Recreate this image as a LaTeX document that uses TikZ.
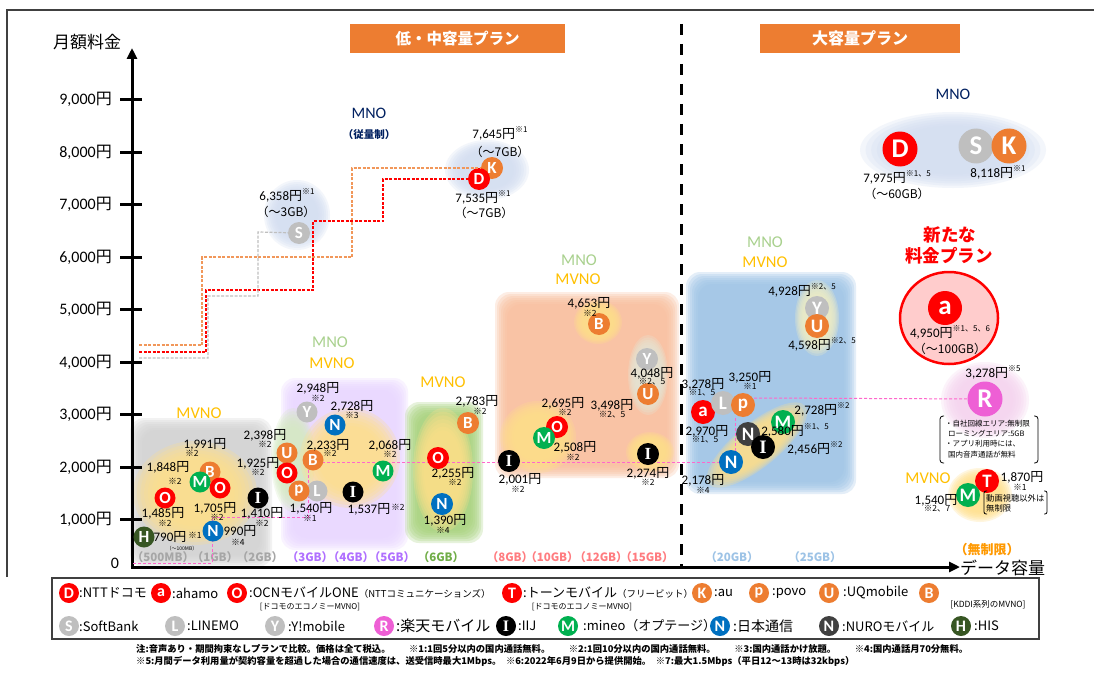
\documentclass[tikz,border=0pt]{standalone}
\usepackage{fontspec}
\setmainfont{Carlito}
\newfontfamily\jp{Noto Sans CJK JP}
\newfontfamily\serI{Liberation Serif}
\usetikzlibrary{arrows.meta}
\definecolor{cRed}{HTML}{FF0000}
\definecolor{cOr}{HTML}{ED7D31}
\definecolor{cGy}{HTML}{BFBFBF}
\definecolor{cGr}{HTML}{00B050}
\definecolor{cBl}{HTML}{0070C0}
\definecolor{cDk}{HTML}{404040}
\definecolor{cH}{HTML}{375623}
\definecolor{cPk}{HTML}{EE5FD5}
\definecolor{cNavy}{HTML}{002060}
\definecolor{cGold}{HTML}{FFC000}
\definecolor{cMnoG}{HTML}{A9D18E}
\definecolor{cYel}{HTML}{FFE08A}
\definecolor{cYlt}{HTML}{F1EEC5}
\definecolor{cGbox}{HTML}{D2D2D2}
\definecolor{cPur}{HTML}{E9D6FF}
\definecolor{cGlt}{HTML}{D5EAC2}
\definecolor{cGrn}{HTML}{A6D27A}
\definecolor{cSal}{HTML}{F9BE9C}
\definecolor{cGG}{HTML}{E4E6D6}
\definecolor{cBbox}{HTML}{9DC3E6}
\definecolor{cBlob}{HTML}{D3DEF1}
\definecolor{cPkL}{HTML}{F5D3EF}
\definecolor{cPkC}{HTML}{FFCCCC}
\definecolor{cPinkL}{HTML}{FF66CC}
\definecolor{lbGray}{HTML}{A6A6A6}
\definecolor{lbPur}{HTML}{B070FF}
\definecolor{lbGrn}{HTML}{70AD47}
\definecolor{lbSal}{HTML}{FF7C80}
\definecolor{lbBlu}{HTML}{9DC3E6}
\definecolor{lbOr}{HTML}{FF9900}
\newcommand\en{{\jp 円}}
\newcommand\II{{\serI\bfseries I}}
\newcommand\supk[1]{\raisebox{0.45em}{\jp\fontsize{8}{8}\selectfont ※#1}}
\newcommand\softell[5][0]{\foreach \s in {1,0.94,0.88,0.82,0.76,0.70,0.64}{\fill[#5,opacity=0.27,rotate around={#1:#2}] #2 ellipse[x radius={\s*#3}, y radius={\s*#4}];}}
\newcommand\softrect[5]{\foreach \s in {0,2,4,6,8,10,12}{\fill[#5,opacity=0.27,rounded corners=14pt] ({#1+\s},{#2+\s}) rectangle ({#3-\s},{#4-\s});}}
\tikzset{
 bub/.style={circle,fill=#1,minimum size=22pt,inner sep=0pt,text=white,font=\bfseries\fontsize{17}{17}\selectfont},
 bsm/.style={minimum size=20pt,font=\bfseries\fontsize{16}{16}\selectfont},
 bmid/.style={minimum size=24pt,font=\bfseries\fontsize{19}{19}\selectfont},
 bbig/.style={minimum size=35pt,font=\bfseries\fontsize{27}{27}\selectfont},
 pr/.style={inner sep=0pt,font=\fontsize{13}{13}\selectfont},
 km/.style={inner sep=0pt,font=\jp\fontsize{8.5}{8.5}\selectfont},
 gb/.style={inner sep=0pt,font=\jp\fontsize{12}{12}\selectfont},
 mnoG/.style={inner sep=0pt,text=cMnoG,font=\fontsize{16.5}{16.5}\selectfont},
 mvno/.style={inner sep=0pt,text=cGold,font=\fontsize{16.5}{16.5}\selectfont},
 xl/.style={inner sep=0pt,font=\jp\bfseries\fontsize{11.5}{11.5}\selectfont},
 tick/.style={inner sep=0pt,font=\fontsize{16}{16}\selectfont},
 lg/.style={inner sep=0pt,anchor=west,font=\jp\fontsize{13}{13}\selectfont},
 lgs/.style={inner sep=0pt,font=\jp\fontsize{8}{8}\selectfont},
 rn/.style={inner sep=0pt,anchor=west,font=\jp\fontsize{7.5}{7.5}\selectfont},
 notes/.style={inner sep=0pt,anchor=west,font=\jp\bfseries\fontsize{9.3}{9.3}\selectfont},
 pinkd/.style={cPinkL,line width=1pt,dash pattern=on 3pt off 2pt},
 stepd/.style={line width=1.2pt,dash pattern=on 3pt off 1.5pt},
 banner/.style={fill=cOr,text=white,inner sep=0pt,font=\jp\bfseries\fontsize{15.5}{15.5}\selectfont},
}
\begin{document}
\begin{tikzpicture}[x=1pt,y=-1pt]
\useasboundingbox (0,0) rectangle (1094,682);
\fill[white] (0,0) rectangle (1094,682);
% frame
\draw[cDk,line width=1.2pt] (7,577) -- (7,10) -- (1094,10);
% banners
\node[banner,minimum width=215pt,minimum height=29pt] (bn1) at (457.5,38.5) {低・中容量プラン};
\node[banner,minimum width=200pt,minimum height=29pt,font=\jp\bfseries\fontsize{16}{16}\selectfont] (bn2) at (860,38.5) {大容量プラン};
% soft regions
\softell{(297,215)}{33}{35}{cBlob}
\softell{(487,170)}{42}{30}{cBlob}
\softell{(953,150)}{93}{38}{cBlob}
\softrect{130}{418}{272}{567}{cGbox}
\softell{(195,493)}{62}{52}{cYel}
\softrect{281}{378}{408}{550}{cPur}
\softell{(293,460)}{22}{52}{cGlt}
\softell{(350,458)}{50}{50}{cYel}
\softrect{405}{402}{483}{543}{cGrn}
\softell{(443,470)}{30}{62}{cYel}
\softrect{495}{292}{679}{478}{cSal}
\softell{(538,437)}{38}{36}{cYel}
\softell{(650,452)}{24}{20}{cYel}
\softell{(598,322)}{24}{22}{cYel}
\softell{(648,375)}{20}{40}{cGG}
\softrect{686}{272}{856}{494}{cBbox}
\softell{(817,318)}{22}{38}{cYlt}
\softell[39]{(757,445)}{62}{22}{cYel}
\softell{(985,400)}{44}{38}{cPkL}
\softell{(980,495)}{32}{27}{cYel}
\draw[cRed,line width=2.5pt,fill=cPkC] (949,318) ellipse[x radius=49,y radius=46];
% axes
\coordinate (org) at (132,568.5);
\coordinate (ytop) at (132,48);
\coordinate (xorg) at (130.5,567);
\coordinate (xend) at (960,567);
\draw[line width=3pt,-{Triangle[length=11pt,width=10pt]}] (org) -- (ytop);
\draw[line width=3pt,-{Triangle[length=11pt,width=10pt]}] (xorg) -- (xend);
\foreach \v/\yy in {9/99.5,8/152,7/204.5,6/257,5/309.5,4/362,3/414.5,2/467,1/519.5}{
  \draw[line width=3pt] (120,\yy) -- (142,\yy);
  \node[tick,anchor=east] (tk\v) at (112,\yy) {\v,000\en};}
\node[tick] (tk0) at (115,563) {0};
\node[inner sep=0pt,font=\jp\fontsize{17}{17}\selectfont] (ylab) at (87,42) {月額料金};
\node[inner sep=0pt,anchor=west,font=\jp\fontsize{17}{17}\selectfont] (xlab) at (960,568) {データ容量};
% divider
\draw[line width=3pt,dash pattern=on 11pt off 9pt] (681,24) -- (681,567);
% x labels
\node[xl,text=lbGray] (x1) at (163,557) {（500MB）};
\node[xl,text=lbGray] (x2) at (215,557) {（1GB）};
\node[xl,text=lbGray] (x3) at (260,557) {（2GB）};
\node[xl,text=lbPur] (x4) at (310,557) {（3GB）};
\node[xl,text=lbPur] (x5) at (351,557) {（4GB）};
\node[xl,text=lbPur] (x6) at (392,557) {（5GB）};
\node[xl,text=lbGrn] (x7) at (441,557) {（6GB）};
\node[xl,text=lbSal] (x8) at (510,557) {（8GB）};
\node[xl,text=lbSal] (x9) at (552,557) {（10GB）};
\node[xl,text=lbSal] (x10) at (601,557) {（12GB）};
\node[xl,text=lbSal] (x11) at (647,557) {（15GB）};
\node[xl,text=lbBlu] (x12) at (732,557) {（20GB）};
\node[xl,text=lbBlu] (x13) at (815,557) {（25GB）};
\node[xl,text=lbOr,font=\jp\bfseries\fontsize{13}{13}\selectfont] (x14) at (987,550) {（無制限）};
% group labels
\node[inner sep=0pt,text=cNavy,font=\fontsize{16}{16}\selectfont] (mnoA) at (369,113) {MNO};
\node[inner sep=0pt,text=cNavy,font=\jp\bfseries\fontsize{10.5}{10.5}\selectfont] (mnoA2) at (369,135) {（従量制）};
\node[inner sep=0pt,text=cNavy,font=\fontsize{16}{16}\selectfont] (mnoB) at (953,94) {MNO};
\node[mvno] (mv1) at (199,413) {MVNO};
\node[mnoG] (mg2) at (330,342) {MNO};
\node[mvno] (mv2) at (332,363) {MVNO};
\node[mvno] (mv3) at (443,382) {MVNO};
\node[mnoG] (mg4) at (579,260) {MNO};
\node[mvno] (mv4) at (578,279) {MVNO};
\node[mnoG] (mg5) at (765,242) {MNO};
\node[mvno] (mv5) at (765,262) {MVNO};
\node[mvno] (mv6) at (928,478) {MVNO};
\node[inner sep=0pt,text=cRed,font=\jp\bfseries\fontsize{17.5}{17.5}\selectfont] (np1) at (950,235) {新たな};
\node[inner sep=0pt,text=cRed,font=\jp\bfseries\fontsize{17.5}{17.5}\selectfont] (np2) at (949,256) {料金プラン};
% top MNO bubbles
\node[bub=cGy] (S1) at (299,233) {S};
\node[bub=cOr] (K1) at (492,168) {K};
\node[bub=cRed] (D1) at (479,179) {D};
% step lines
\draw[stepd,cOr!80] (139,345) -| (202,257) -| (352,168) -- (K1);
\draw[stepd,cRed] (139,352) -| (206,290) -| (313,221) -| (383,179) -- (D1);
\draw[stepd,cGy] (139,358) -| (208,296) -| (258,232) -- (S1);
\node[pr] (pS1) at (287,195) {6,358\en\supk{1}};
\node[gb] (gS1) at (286,212) {（～3GB）};
\node[pr] (pK1) at (500,133) {7,645\en\supk{1}};
\node[gb] (gK1) at (500,152) {（～7GB）};
\node[pr] (pD1) at (483,197) {7,535\en\supk{1}};
\node[gb] (gD1) at (484,213) {（～7GB）};
% pink dashed lines
\coordinate (pa) at (133,563);
\coordinate (pb) at (735,451);
\coordinate (pc) at (735,416);
\coordinate (pd) at (754,398);
\node[bub=cBl,bmid] (Nb5) at (731,462) {N};
\node[bub=cPk,bbig] (R1) at (985,399) {R};
\draw[pinkd] (pa) -| (212,517) -| (308,462) -- (Nb5);
\draw[pinkd] (pb) -- (pc);
\draw[pinkd] (pd) -- (R1);
% low region
\node[bub=cH,minimum size=21pt] (H1) at (144,537) {H};
\node[pr] (pH1) at (170,537) {790\en};
\node[km] (kH1) at (195,535) {※1};
\node[inner sep=0pt,font=\jp\fontsize{5}{5}\selectfont] (mbH1) at (182,549) {（～100MB）};
\node[bub=cRed,minimum size=21pt] (O1) at (165,498) {O};
\node[pr] (pO1) at (163,513) {1,485\en};
\node[km] (kO1) at (165,523) {※2};
\node[pr] (pM1) at (168,467) {1,848\en};
\node[km] (kM1) at (175,481) {※2};
\node[bub=cOr,minimum size=21pt] (B1) at (210,472) {B};
\node[bub=cGr,minimum size=21pt] (M1) at (200,482) {M};
\node[bub=cRed,minimum size=21pt] (O2) at (220,488) {O};
\node[pr] (pB1) at (205,444) {1,991\en};
\node[km] (kB1) at (192,453) {※2};
\node[pr] (pO2) at (215,508) {1,705\en};
\node[km] (kO2) at (217,517) {※2};
\node[bub=cBl,minimum size=21pt] (Nb1) at (213,531) {N};
\node[pr] (pN1) at (240,531) {990\en};
\node[km] (kN1) at (238,542) {※4};
\node[bub=black,minimum size=21pt] (I1) at (258,498) {\II};
\node[pr] (pI1) at (262,513) {1,410\en};
\node[km] (kI1) at (262,523) {※2};
\node[pr] (pO3) at (258,463) {1,925\en};
\node[km] (kO3) at (258,472) {※2};
\node[pr] (pU1) at (265,435) {2,398\en};
\node[km] (kU1) at (265,444) {※2};
\node[bub=cOr,minimum size=21pt] (U1) at (287,453) {U};
\node[bub=cRed,minimum size=21pt] (O3) at (287,473) {O};
\node[bub=cGy,minimum size=21pt] (L1) at (317,491) {L};
\node[bub=cOr,minimum size=21pt] (p1) at (299,491) {p};
\node[bub=cOr,minimum size=21pt] (B2) at (313,460) {B};
\node[pr] (pB2) at (328,445) {2,233\en};
\node[km] (kB2) at (330,453) {※2};
\node[pr] (pp1) at (311,508) {1,540\en};
\node[km] (kp1) at (310,518) {※1};
\node[bub=cGy,minimum size=21pt] (Y1) at (307,412) {Y};
\node[pr] (pY1) at (318,388) {2,948\en};
\node[km] (kY1) at (318,398) {※2};
\node[bub=cBl,minimum size=21pt] (Nb2) at (335,425) {N};
\node[pr] (pN2) at (352,406) {2,728\en};
\node[km] (kN2) at (352,415) {※3};
\node[bub=cGr,minimum size=21pt] (M2) at (383,471) {M};
\node[pr] (pM2) at (390,445) {2,068\en};
\node[km] (kM2) at (390,454) {※2};
\node[bub=black,minimum size=21pt] (I2) at (353,492) {\II};
\node[pr] (pI2) at (369,509) {1,537\en};
\node[km] (kI2) at (398,507) {※2};
% 6GB
\node[bub=cOr] (B3) at (468,423) {B};
\node[pr] (pB3) at (477,401) {2,783\en};
\node[km] (kB3) at (480,411) {※2};
\node[bub=cRed] (O4) at (438,458) {O};
\node[pr] (pO4) at (453,473) {2,255\en};
\node[km] (kO4) at (455,482) {※2};
\node[bub=cBl] (Nb3) at (442,504) {N};
\node[pr] (pN3) at (445,520) {1,390\en};
\node[km] (kN3) at (443,530) {※4};
% salmon
\node[bub=cOr] (B4) at (599,324) {B};
\node[pr] (pB4) at (589,303) {4,653\en};
\node[km] (kB4) at (590,313) {※2};
\node[bub=cGy] (Y2) at (647,359) {Y};
\node[bub=cOr] (U2) at (648,394) {U};
\node[pr] (pY2) at (652,373) {4,048\en};
\node[km] (kY2) at (652,382) {※2、5};
\node[pr] (pU2) at (612,405) {3,498\en};
\node[km] (kU2) at (612,415) {※2、5};
\node[bub=cRed] (O5) at (557,427) {O};
\node[bub=cGr] (M3) at (544,438) {M};
\node[pr] (pO5) at (563,403) {2,695\en};
\node[km] (kO5) at (565,412) {※2};
\node[pr] (pM3) at (575,447) {2,508\en};
\node[km] (kM3) at (573,457) {※2};
\node[bub=black] (I3) at (509,461) {\II};
\node[pr] (pI3) at (520,479) {2,001\en};
\node[km] (kI3) at (518,489) {※2};
\node[bub=black] (I4) at (648,454) {\II};
\node[pr] (pI4) at (648,473) {2,274\en};
\node[km] (kI4) at (648,482) {※2};
% blue box
\node[bub=cGy,bmid] (Y3) at (817,308) {Y};
\node[bub=cOr,bmid] (U3) at (817,326) {U};
\node[pr] (pY3) at (802,290) {4,928\en\supk{2、5}};
\node[pr] (pU3) at (822,344) {4,598\en\supk{2、5}};
\node[bub=cRed,bmid] (a1) at (703,412) {a};
\node[bub=cGy,bmid] (L2) at (723,403) {L};
\node[bub=cOr,bmid] (p2) at (743,405) {p};
\node[pr] (pa1) at (707,431) {2,970\en};
\node[km] (ka1) at (705,440) {※1、5};
\node[pr] (pL2) at (703,384) {3,278\en};
\node[km] (kL2) at (702,393) {※1、5};
\node[pr] (pp2) at (750,377) {3,250\en};
\node[km] (kp2) at (750,386) {※1};
\node[bub=cGr,bmid] (M4) at (783,422) {M};
\node[pr] (pM4) at (822,409) {2,728\en\supk{2}};
\node[bub=cDk,bmid] (Nd1) at (748,434) {N};
\node[bub=black,bmid] (I5) at (763,447) {\II};
\node[pr] (pNd1) at (795,430) {2,580\en\supk{1、5}};
\node[pr] (pI5) at (815,448) {2,456\en\supk{2}};
\node[pr] (pN5) at (703,480) {2,178\en};
\node[km] (kN5) at (703,490) {※4};
% right MNO
\node[bub=cRed,bbig] (D2) at (900,149) {D};
\node[bub=cGy,bbig] (S2) at (976,146) {S};
\node[bub=cOr,bbig] (K2) at (1009,146) {K};
\node[pr] (pD2) at (897,177) {7,975\en\supk{1、5}};
\node[gb] (gD2) at (897,194) {（～60GB）};
\node[pr] (pK2) at (998,172) {8,118\en\supk{1}};
% new plan
\node[bub=cRed,minimum size=34pt,font=\bfseries\fontsize{27}{27}\selectfont] (a2) at (945,308) {a};
\node[pr] (pa2) at (950,332) {4,950\en\supk{1、5、6}};
\node[gb] (ga2) at (950,349) {（～100GB）};
\node[pr] (pR1) at (993,372) {3,278\en\supk{5}};
\node[rn] (rn1) at (945,424) {・自社回線エリア:無制限};
\node[rn] (rn2) at (948,434) {ローミングエリア:5GB};
\node[rn] (rn3) at (945,444) {・アプリ利用時には、};
\node[rn] (rn4) at (948,455) {国内音声通話が無料};
\draw[line width=0.8pt,rounded corners=3pt] (944,416) -- (940,416) -- (940,463) -- (944,463);
\draw[line width=0.8pt,rounded corners=3pt] (1034,416) -- (1038,416) -- (1038,463) -- (1034,463);
% unlimited MVNO
\node[bub=cRed,bmid] (T1) at (987,481) {T};
\node[bub=cGr,bmid] (M5) at (968,495) {M};
\node[pr] (pT1) at (1022,477) {1,870\en};
\node[km] (kT1) at (1020,487) {※1};
\node[pr] (pM5) at (936,500) {1,540\en};
\node[km] (kM5) at (937,509) {※2、7};
\node[rn,font=\jp\fontsize{8.3}{8.3}\selectfont] (tn1) at (986,498) {動画視聴以外は};
\node[rn,font=\jp\fontsize{8.3}{8.3}\selectfont] (tn2) at (986,508) {無制限};
\draw[line width=0.8pt,rounded corners=2pt] (987,491) -- (984,491) -- (984,514) -- (987,514);
\draw[line width=0.8pt,rounded corners=2pt] (1044,491) -- (1047,491) -- (1047,514) -- (1044,514);
% legend
\draw[cDk,line width=1.5pt] (52,578) rectangle (1039,639);
\node[bub=cRed,bsm] (lD) at (69,593) {D};
\node[lg] (tD) at (79,593) {:NTTドコモ};
\node[bub=cRed,bsm] (la) at (161,593) {a};
\node[lg] (ta) at (172,593) {:ahamo};
\node[bub=cRed,bsm] (lO) at (237,593) {O};
\node[lg] (tO) at (249,593) {:OCNモバイルONE{\fontsize{9.5}{9.5}\selectfont（NTTコミュニケーションズ）}};
\node[lgs] (sO) at (310,607) {[ドコモのエコノミーMVNO]};
\node[bub=cRed,bsm] (lT) at (512,593) {T};
\node[lg] (tT) at (523,593) {:トーンモバイル{\fontsize{9.5}{9.5}\selectfont（フリービット）}};
\node[lgs] (sT) at (582,607) {[ドコモのエコノミーMVNO]};
\node[bub=cOr,bsm] (lK) at (702,593) {K};
\node[lg] (tK) at (714,593) {:au};
\node[bub=cOr,bsm] (lp) at (759,593) {p};
\node[lg] (tp) at (772,593) {:povo};
\node[bub=cOr,bsm] (lU) at (829,593) {U};
\node[lg] (tU) at (843,593) {:UQmobile};
\node[bub=cOr,bsm] (lB) at (929,593) {B};
\node[lgs,font=\jp\fontsize{8.5}{8.5}\selectfont] (sB) at (988,605) {[KDDI系列のMVNO]};
\node[bub=cGy,bsm] (lS) at (69,626) {S};
\node[lg] (tS) at (79,626) {:SoftBank};
\node[bub=cGy,bsm] (lL) at (175,626) {L};
\node[lg] (tL) at (187,626) {:LINEMO};
\node[bub=cGy,bsm] (lY) at (275,626) {Y};
\node[lg] (tY) at (288,626) {:Y!mobile};
\node[bub=cPk,bsm] (lR) at (384,626) {R};
\node[lg,font=\jp\fontsize{15}{15}\selectfont] (tR) at (396,626) {:楽天モバイル};
\node[bub=black,bsm] (lI) at (506,626) {\II};
\node[lg] (tI) at (518,626) {:IIJ};
\node[bub=cGr,bsm] (lM) at (568,626) {M};
\node[lg] (tM) at (583,626) {:mineo（オプテージ）};
\node[bub=cBl,bsm] (lN) at (720,626) {N};
\node[lg,font=\jp\fontsize{14}{14}\selectfont] (tN) at (733,626) {:日本通信};
\node[bub=cDk,bsm] (lNd) at (829,626) {N};
\node[lg] (tNd) at (842,626) {:NUROモバイル};
\node[bub=cH,bsm] (lH) at (961,626) {H};
\node[lg] (tH) at (974,626) {:HIS};
% notes
\node[notes] (nt1) at (136,649) {注:音声あり・期間拘束なしプランで比較。価格は全て税込。\hspace{2em}※1:1回5分以内の国内通話無料。\hspace{2em}※2:1回10分以内の国内通話無料。\hspace{2em}※3:国内通話かけ放題。\hspace{2em}※4:国内通話月70分無料。};
\node[notes] (nt2) at (136,661) {※5:月間データ利用量が契約容量を超過した場合の通信速度は、送受信時最大1Mbps。\enspace ※6:2022年6月9日から提供開始。\enspace ※7:最大1.5Mbps（平日12～13時は32kbps）};
\end{tikzpicture}
\end{document}
